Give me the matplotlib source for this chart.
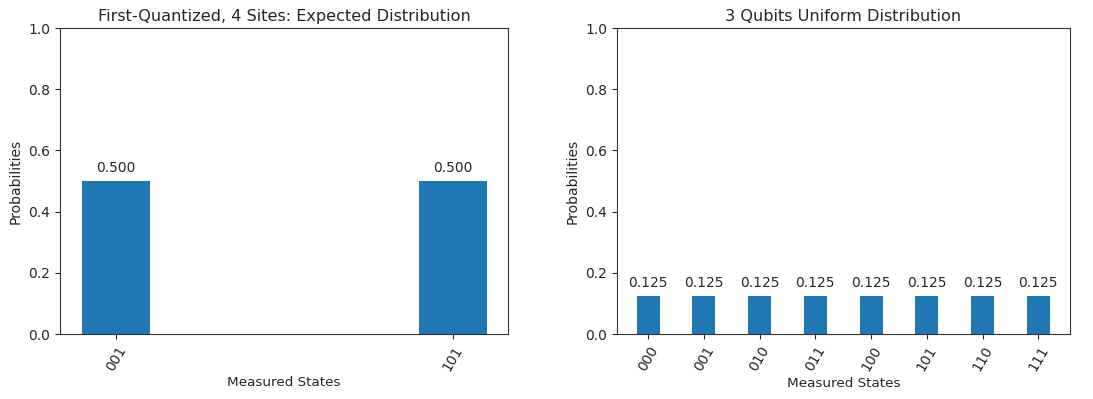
import matplotlib
matplotlib.use("Agg")
import matplotlib.pyplot as plt
import numpy as np

# Expected distribution for the first-quantized 4-site encoding
fq_states = ["001", "101"]
fq_probs = [0.500, 0.500]

# Uniform distribution over 3 qubits
uni_states = ["000", "001", "010", "011", "100", "101", "110", "111"]
uni_probs = [0.125, 0.125, 0.125, 0.125, 0.125, 0.125, 0.125, 0.125]

plt.rcParams.update({
    "font.family": "DejaVu Sans",
    "text.color": "#262626",
    "axes.labelcolor": "#262626",
    "xtick.color": "#262626",
    "ytick.color": "#262626",
    "axes.edgecolor": "#333333",
})

W, H = 1093, 399
fig = plt.figure(figsize=(W / 100, H / 100), dpi=100)
fig.patch.set_facecolor("white")


def histogram(ax, states, probs, width, xlim, title):
    x = np.arange(len(states))
    ax.bar(x, probs, width=width, color="#1f77b4")
    for xi, p in zip(x, probs):
        ax.text(xi, p + 0.02, f"{p:.3f}", ha="center", va="bottom", fontsize=10)
    ax.set_xticks(x)
    ax.set_xticklabels(states, rotation=60, fontsize=10)
    ax.set_xlim(*xlim)
    ax.set_ylim(0, 1.0)
    ax.set_yticks([0.0, 0.2, 0.4, 0.6, 0.8, 1.0])
    ax.tick_params(axis="y", labelsize=10)
    ax.set_xlabel("Measured States", fontsize=9.7, labelpad=2)
    ax.set_ylabel("Probabilities", fontsize=10)
    ax.set_title(title, fontsize=11.6, pad=5)


ax1 = fig.add_axes([60 / W, 65 / H, 448 / W, 306 / H])
histogram(ax1, fq_states, fq_probs, 0.2, (-0.166, 1.163),
          "First-Quantized, 4 Sites: Expected Distribution")

ax2 = fig.add_axes([617 / W, 65 / H, 453 / W, 306 / H])
histogram(ax2, uni_states, uni_probs, 0.41, (-0.56, 7.57),
          "3 Qubits Uniform Distribution")

fig.savefig("out.png", dpi=100, facecolor="white")
